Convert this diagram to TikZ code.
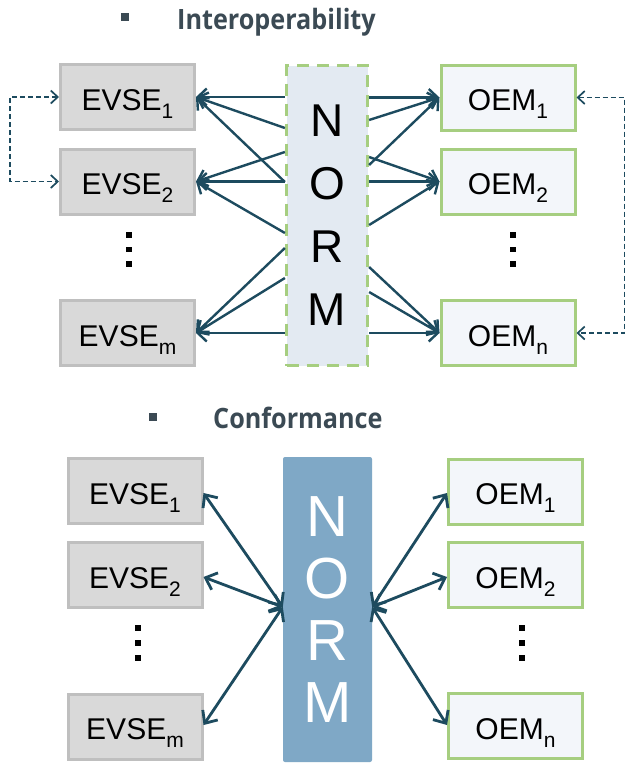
\documentclass[tikz,border=0pt]{standalone}
\usepackage{fontspec}
\setmainfont{Liberation Sans}
\newfontfamily\headfont{Open Sans}
\usetikzlibrary{arrows.meta}

\definecolor{linkcol}{RGB}{29,75,95}
\definecolor{evsefill}{RGB}{217,217,217}
\definecolor{evseline}{RGB}{191,191,191}
\definecolor{oemfill}{RGB}{243,246,250}
\definecolor{oemline}{RGB}{166,206,128}
\definecolor{normlight}{RGB}{227,234,242}
\definecolor{normdark}{RGB}{127,168,198}
\definecolor{headcol}{RGB}{59,74,84}

% lowered index digit/letter after a box label
\newcommand\idx[1]{\raisebox{-8pt}{\fontsize{21}{21}\selectfont #1}}
% slightly condensed bold heading
\newcommand\headtext[1]{\scalebox{0.9}[1]{#1}}

\begin{document}
\begin{tikzpicture}[x=1pt,y=-1pt,
  unit/.style={line width=3pt, minimum width=134pt, minimum height=65pt,
    inner sep=0pt, text height=26pt, text depth=0pt,
    font=\fontsize{30}{30}\selectfont},
  evsebox/.style={unit, draw=evseline, fill=evsefill},
  oembox/.style={unit, draw=oemline, fill=oemfill},
  normtop/.style={draw=oemline, fill=normlight, line width=3.2pt,
    dash pattern=on 12pt off 8pt, minimum width=81pt, minimum height=300pt,
    inner sep=0pt, align=center, font=\fontsize{46}{63}\selectfont},
  normbot/.style={fill=normdark, rounded corners=2pt, minimum width=89pt,
    minimum height=305pt, inner sep=0pt, align=center, text=white,
    font=\fontsize{58}{62}\selectfont},
  vdot/.style={fill=black, minimum size=5.5pt, inner sep=0pt},
  bullet/.style={fill=headcol, minimum size=8pt, inner sep=0pt},
  heading/.style={anchor=base west, text=headcol, inner sep=0pt,
    font=\headfont\bfseries\fontsize{28}{28}\selectfont},
  link/.style={draw=linkcol, line width=2.4pt,
    -{Straight Barb[length=9pt,width=17pt]}},
  duplex/.style={draw=linkcol, line width=2.8pt,
    {Straight Barb[length=10pt,width=18pt]}-{Straight Barb[length=10pt,width=18pt]}},
  loop/.style={draw=linkcol, line width=1.7pt, dash pattern=on 5pt off 3pt,
    {Straight Barb[length=7pt,width=13pt]}-{Straight Barb[length=7pt,width=13pt]}}
]
\useasboundingbox[fill=white] (0,0) rectangle (629,764);

% ---------- Interoperability ----------
\node[bullet] (b1) at (125,17) {};
\node[heading] (h1) at (177,29) {\headtext{Interoperability}};

\node[evsebox] (e1) at (127.5,97) {EVSE\idx{1}};
\node[evsebox] (e2) at (127.5,181.5) {EVSE\idx{2}};
\node[evsebox] (em) at (127.5,333) {EVSE\idx{m}};
\node[oembox] (o1) at (508,97.5) {OEM\idx{1}};
\node[oembox] (o2) at (508,181.5) {OEM\idx{2}};
\node[oembox] (on) at (508,333) {OEM\idx{n}};
\node[normtop] (nt) at (327,215.5) {\raisebox{-10pt}{N}\\\raisebox{-10pt}{O}\\\raisebox{-10pt}{R}\\\raisebox{-10pt}{M}};

\node[vdot] (ld1) at (129,235) {};
\node[vdot] (ld2) at (129,249.5) {};
\node[vdot] (ld3) at (129,264) {};
\node[vdot] (rd1) at (513,235) {};
\node[vdot] (rd2) at (513,249.5) {};
\node[vdot] (rd3) at (513,264) {};

% norm to the charging stations
\draw[link] (nt.west |- 0,97)  -- (e1.east);
\draw[link] (nt.west |- 0,128) -- (e1.east);
\draw[link] (nt.west |- 0,182) -- (e1.east);
\draw[link] (nt.west |- 0,152) -- (e2.east);
\draw[link] (nt.west |- 0,181.5) -- (e2.east);
\draw[link] (nt.west |- 0,233) -- (e2.east);
\draw[link] (nt.west |- 0,248) -- (em.east);
\draw[link] (nt.west |- 0,278) -- (em.east);
\draw[link] (nt.west |- 0,333) -- (em.east);
% norm to the vehicles
\draw[link] (nt.east |- 0,97.5) -- (o1.west);
\draw[link] (nt.east |- 0,120) -- (o1.west);
\draw[link] (nt.east |- 0,165) -- (o1.west);
\draw[link] (nt.east |- 0,157) -- (o2.west);
\draw[link] (nt.east |- 0,181.5) -- (o2.west);
\draw[link] (nt.east |- 0,225) -- (o2.west);
\draw[link] (nt.east |- 0,267) -- (on.west);
\draw[link] (nt.east |- 0,292) -- (on.west);
\draw[link] (nt.east |- 0,333) -- (on.west);

% peer loops
\draw[loop] (e1.west) -- ([xshift=-49pt]e1.west) |- (e2.west);
\draw[loop] (o1.east) -- ([xshift=48pt]o1.east) |- (on.east);

% ---------- Conformance ----------
\node[bullet] (b2) at (153,417) {};
\node[heading] (h2) at (213,428) {\headtext{Conformance}};

\node[evsebox] (E1) at (135,491) {EVSE\idx{1}};
\node[evsebox] (E2) at (135,575) {EVSE\idx{2}};
\node[evsebox] (Em) at (135,726.5) {EVSE\idx{m}};
\node[oembox] (O1) at (515.5,491.5) {OEM\idx{1}};
\node[oembox] (O2) at (515.5,575) {OEM\idx{2}};
\node[oembox] (On) at (515.5,726) {OEM\idx{n}};
\node[normbot] (nb) at (327.5,609.5) {N\\O\\R\\M};

\node[vdot] (Ld1) at (138,628) {};
\node[vdot] (Ld2) at (138,643) {};
\node[vdot] (Ld3) at (138,658) {};
\node[vdot] (Rd1) at (522,628) {};
\node[vdot] (Rd2) at (522,643) {};
\node[vdot] (Rd3) at (522,658) {};

\draw[duplex] (nb.west |- 0,607) -- (E1.east |- 0,493);
\draw[duplex] (nb.west |- 0,607) -- (E2.east |- 0,577);
\draw[duplex] (nb.west |- 0,607) -- (Em.east |- 0,725);
\draw[duplex] (nb.east |- 0,607) -- (O1.west |- 0,493);
\draw[duplex] (nb.east |- 0,607) -- (O2.west |- 0,577);
\draw[duplex] (nb.east |- 0,607) -- (On.west |- 0,725);
\end{tikzpicture}
\end{document}
